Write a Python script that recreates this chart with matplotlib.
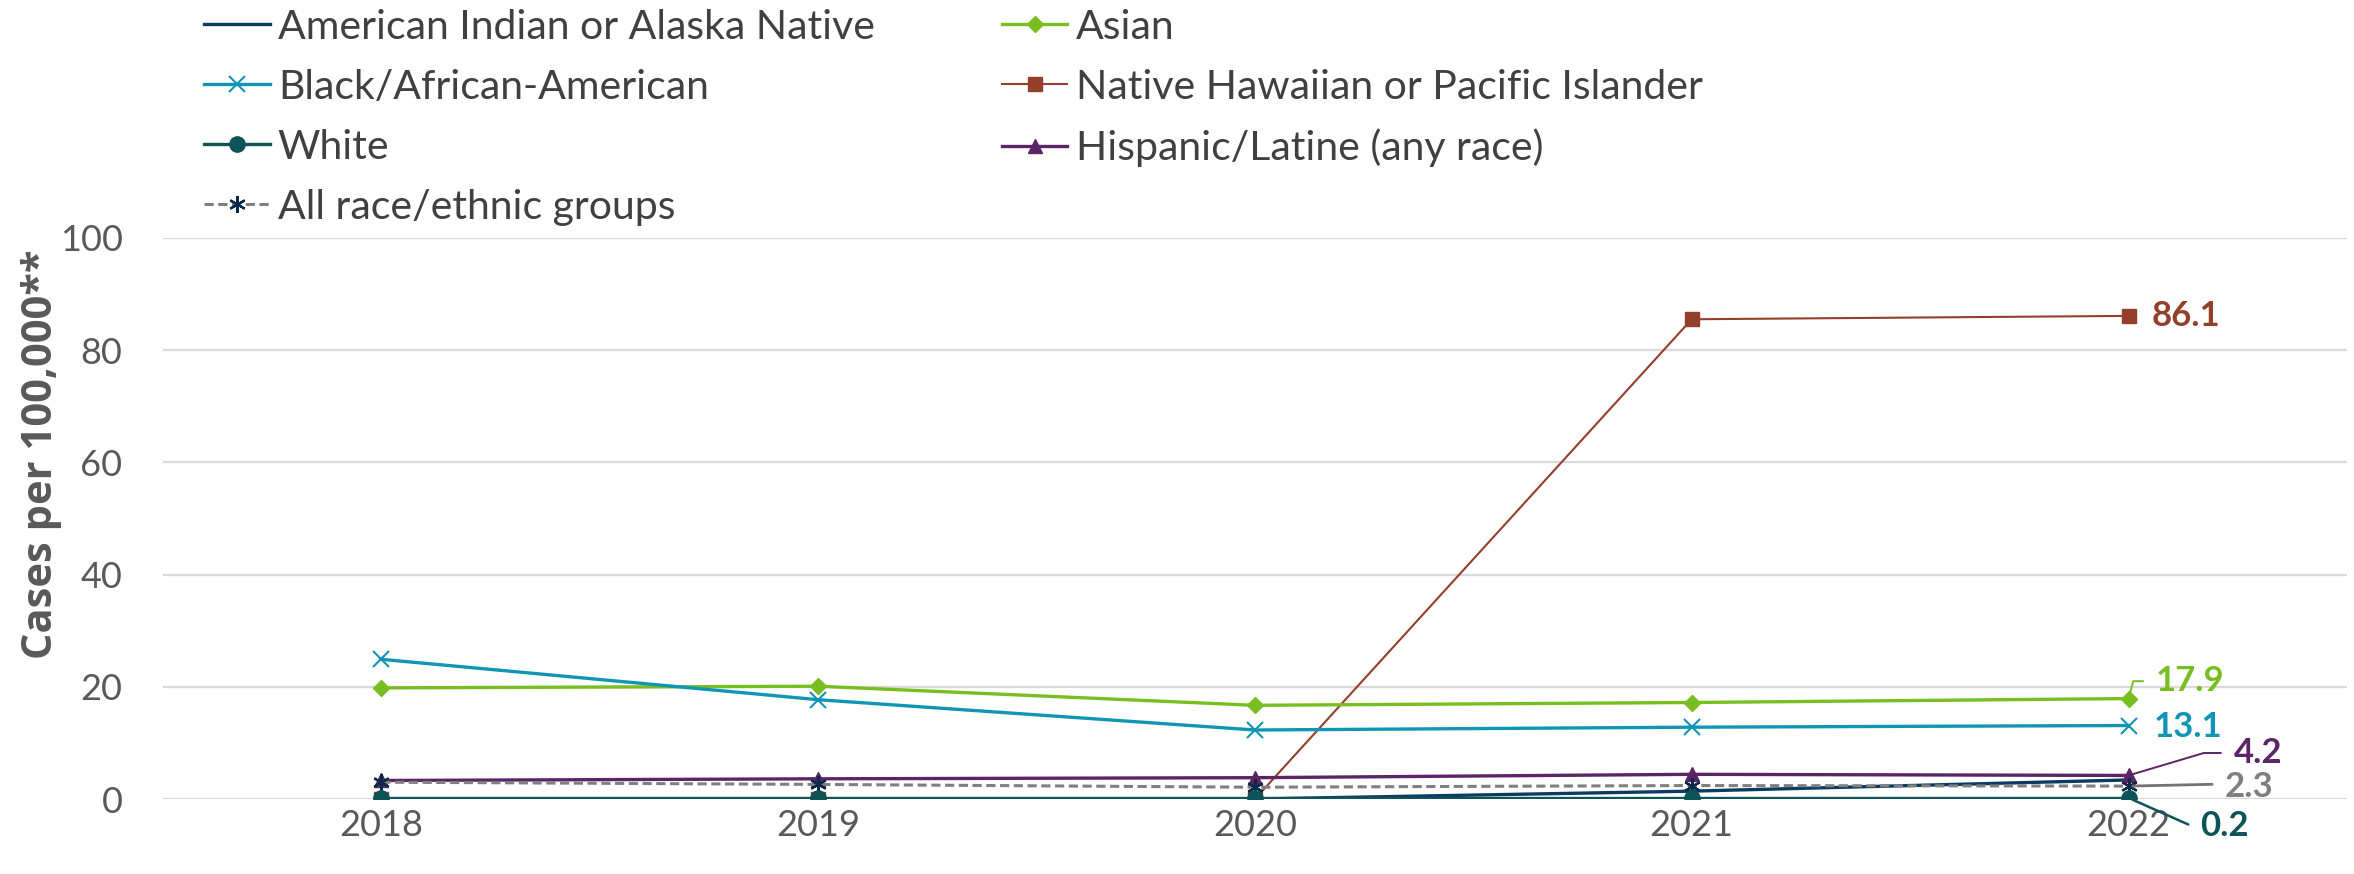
import numpy as np
import matplotlib
matplotlib.use("Agg")
import matplotlib.pyplot as plt

years = ["2018", "2019", "2020", "2021", "2022"]
aian = [0.0, 0.0, 0.0, 1.4, 3.4]
asian = [19.8, 20.1, 16.7, 17.2, 17.9]
black = [24.9, 17.7, 12.3, 12.8, 13.1]
nhpi = [0.0, 0.0, 0.0, 85.5, 86.1]
white = [0.2, 0.2, 0.2, 0.2, 0.2]
hispanic = [3.3, 3.6, 3.8, 4.4, 4.2]
all_groups = [3.0, 2.6, 2.1, 2.4, 2.3]

c_aian = "#0b3b63"
c_asian = "#78be21"
c_black = "#1096b4"
c_nhpi = "#933f2a"
c_white = "#0c5457"
c_hisp = "#5a2466"
c_all = "#7f7f7f"

font = ["Lato", "DejaVu Sans"]
ylab_font = ["Open Sans", "DejaVu Sans"]

fig = plt.figure(figsize=(23.54, 8.74), dpi=100)
ax = fig.add_axes([0.0692, 0.0858, 0.9278, 0.642])
x = np.arange(len(years))

h_aian, = ax.plot(x, aian, color=c_aian, lw=2.4, zorder=3, label="American Indian or Alaska Native")
h_asian, = ax.plot(x, asian, color=c_asian, lw=2.4, marker="D", ms=8, zorder=3, label="Asian")
h_black, = ax.plot(x, black, color=c_black, lw=2.4, marker="x", ms=11, mew=1.5, zorder=3,
                   label="Black/African-American")
h_nhpi, = ax.plot(x, nhpi, color=c_nhpi, lw=1.5, marker="s", ms=10, zorder=2,
                  label="Native Hawaiian or Pacific Islander")
h_white, = ax.plot(x, white, color=c_white, lw=2.4, marker="o", ms=11, zorder=4, label="White")
h_hisp, = ax.plot(x, hispanic, color=c_hisp, lw=2.4, marker="^", ms=10, zorder=3,
                  label="Hispanic/Latine (any race)")
h_all, = ax.plot(x, all_groups, color=c_all, lw=2.2, ls=(0, (3, 1.5)), marker=(6, 2, 0), ms=12,
                 mec="#0b2a4a", mew=1.6, zorder=3, label="All race/ethnic groups")

ax.set_xlim(-0.5, 4.5)
ax.set_ylim(0, 100)
ax.set_yticks(np.arange(0, 101, 20))
ax.set_xticks(x)
ax.set_xticklabels(years)
ax.grid(axis="y", color="#d9d9d9", lw=1.6)
ax.set_axisbelow(True)
for s in ax.spines.values():
    s.set_visible(False)
ax.tick_params(length=0, labelsize=26, labelcolor="#595959")
ax.tick_params(axis="y", pad=29)
ax.tick_params(axis="x", pad=7)
for lab in ax.get_xticklabels() + ax.get_yticklabels():
    lab.set_family(font)
ax.set_ylabel("Cases per 100,000**", fontsize=30, fontweight="bold", color="#595959",
              family=ylab_font)
ax.yaxis.set_label_coords(-0.046, 0.615)

# end-of-line value labels with leader lines
lbl = dict(fontsize=25, fontweight="bold", family=font, va="center", ha="left",
           annotation_clip=False)


def leader(color, angle_b, lw=1.4, shrink=7):
    return dict(arrowstyle="-", color=color, lw=lw, shrinkA=shrink, shrinkB=3,
                relpos=(0, 0.5), connectionstyle=f"angle,angleA=180,angleB={angle_b},rad=0")


ax.annotate("86.1", xy=(4, nhpi[4]), xytext=(4.053, 86.1), color=c_nhpi, **lbl)
ax.annotate("17.9", xy=(4, asian[4]), xytext=(4.062, 21.0), color=c_asian,
            arrowprops=leader(c_asian, 75), **lbl)
ax.annotate("13.1", xy=(4, black[4]), xytext=(4.057, 12.8), color=c_black, **lbl)
ax.annotate("4.2", xy=(4, hispanic[4]), xytext=(4.24, 8.2), color=c_hisp,
            arrowprops=leader(c_hisp, 16.6), **lbl)
ax.annotate("2.3", xy=(4, all_groups[4]), xytext=(4.22, 2.1), color=c_all,
            arrowprops=dict(arrowstyle="-", color="#737373", lw=2.0, shrinkA=7, shrinkB=3,
                            relpos=(0, 0.6)), **lbl)
ax.annotate("0.2", xy=(4, white[4]), xytext=(4.165, -4.8), color=c_white,
            arrowprops=leader(c_white, -24, lw=1.8), **lbl)

handles = [h_aian, h_black, h_white, h_all, h_asian, h_nhpi, h_hisp]
leg = fig.legend(handles=handles, loc="upper left", bbox_to_anchor=(0.0867, 0.99), ncol=2,
                 frameon=False, prop={"family": font, "size": 29.5}, handlelength=1.6,
                 handletextpad=0.2, labelspacing=0.56, columnspacing=3.1,
                 borderpad=0, borderaxespad=0)
for t in leg.get_texts():
    t.set_color("#404040")

fig.savefig("out.png", dpi=100)
